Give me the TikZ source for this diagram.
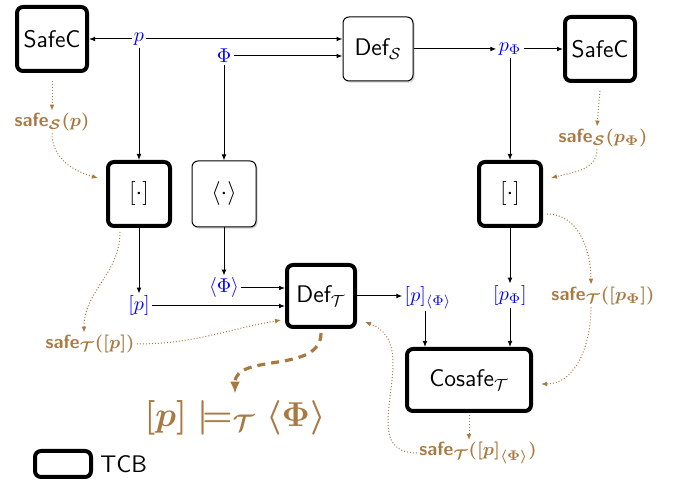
\documentclass[tikz,border=0pt]{standalone}
\usepackage{amsmath,amssymb}
\usetikzlibrary{arrows.meta,shadows}
\definecolor{safebrown}{RGB}{168,122,66}
\newcommand{\safeop}{\textsf{\textbf{safe}}}
\tikzset{
  box/.style = {draw=black, fill=white, rounded corners=3pt, align=center, inner sep=0pt,
    font=\fontsize{12}{14}\selectfont\sffamily,
    drop shadow={shadow xshift=0.8pt, shadow yshift=-0.8pt, opacity=0.35}},
  box_t/.style = {box, line width=2pt},% boite de la TCB
  box_u/.style = {box, line width=0.5pt},% boite hors TCB
  val/.style = {blue, inner sep=1pt, font=\fontsize{10}{12}\selectfont},
  safe_l/.style = {safebrown, inner sep=1pt, font=\fontsize{9.5}{12}\selectfont\boldmath},
  flow/.style = {-{Latex[length=3pt,width=2.4pt]}, line width=0.5pt},
  proof/.style = {-{Latex[length=3pt,width=2.4pt]}, safebrown, densely dotted, line width=0.5pt},
  concl/.style = {-{Latex[length=6pt,width=5pt]}, safebrown, dash pattern=on 4pt off 3pt, line width=1.6pt}
}

\begin{document}
\begin{tikzpicture}[x=0.5pt, y=-0.5pt]
  \useasboundingbox (0,0) rectangle (675,485);
  % boites
  \node [box_t, minimum width=35pt, minimum height=32pt] (safec_l) at (52,39) {SafeC};
  \node [box_u, minimum width=35pt, minimum height=32pt] (def_s) at (378,49) {Def$_{\mathcal{S}}$};
  \node [box_t, minimum width=35pt, minimum height=32pt] (safec_r) at (600,49) {SafeC};
  \node [box_t, minimum width=31pt, minimum height=32pt] (brk_l) at (139,194) {$[\cdot]$};
  \node [box_u, minimum width=32pt, minimum height=33pt] (ang) at (224,194) {$\langle\cdot\rangle$};
  \node [box_t, minimum width=31pt, minimum height=32pt] (brk_r) at (510,194) {$[\cdot]$};
  \node [box_t, minimum width=34pt, minimum height=31pt] (def_t) at (321,296) {Def$_{\mathcal{T}}$};
  \node [box_t, minimum width=62pt, minimum height=31pt] (cosafe) at (469,380) {Cosafe$_{\mathcal{T}}$};
  % valeurs
  \node [val] (p) at (139,39) {$p$};
  \node [val] (phi) at (224,56) {$\Phi$};
  \node [val] (p_phi) at (510,49) {$p_\Phi$};
  \node [val] (bp) at (139,306) {$[p]$};
  \node [val] (aphi) at (224,288) {$\langle\Phi\rangle$};
  \node [val] (bp_a) at (428,298) {$[p]_{\langle\Phi\rangle}$};
  \node [val] (bp_phi) at (510,296) {$[p_\Phi]$};
  % preuves
  \node [safe_l] (s_sl) at (52,122) {$\safeop_{\mathcal{S}}(p)$};
  \node [safe_l] (s_sr) at (603,138) {$\safeop_{\mathcal{S}}(p_\Phi)$};
  \node [safe_l] (s_tl) at (90,344) {$\safeop_{\mathcal{T}}([p])$};
  \node [safe_l] (s_tr) at (603,296) {$\safeop_{\mathcal{T}}([p_\Phi])$};
  \node [safe_l] (s_tc) at (478,453) {$\safeop_{\mathcal{T}}([p]_{\langle\Phi\rangle})$};
  \node [safebrown, font=\fontsize{17}{20}\selectfont\boldmath] (goal) at (235,418)
    {$[p] \models_{\mathcal{T}} \langle\Phi\rangle$};
  % legende
  \node [box_t, minimum width=28pt, minimum height=13pt] (tcb) at (63,464) {};
  \node [font=\fontsize{12}{14}\selectfont\sffamily, anchor=west, inner sep=1pt] (tcb_t) at (98,464) {TCB};

  % flot des programmes
  \draw [flow] (p) -- (safec_l);
  \draw [flow] (p.east) -- (p.east -| def_s.west);
  \draw [flow] (phi.east) -- (phi.east -| def_s.west);
  \draw [flow] (def_s) -- (p_phi);
  \draw [flow] (p_phi) -- (safec_r);
  \draw [flow] (p) -- (brk_l);
  \draw [flow] (phi) -- (ang);
  \draw [flow] (p_phi) -- (brk_r);
  \draw [flow] (brk_l) -- (bp);
  \draw [flow] (ang) -- (aphi);
  \draw [flow] (brk_r) -- (bp_phi);
  \draw [flow] (aphi.east) -- (aphi.east -| def_t.west);
  \draw [flow] (bp.east) -- (bp.east -| def_t.west);
  \draw [flow] (def_t.east) -- (def_t.east -| bp_a.west);
  \draw [flow] ([xshift=-1.5pt]bp_a.south) -- ([xshift=-1.5pt]bp_a.south |- cosafe.north);
  \draw [flow] (bp_phi.south) -- (bp_phi.south |- cosafe.north);

  % flot des preuves
  \draw [proof] (safec_l.south) ++(0,-4pt) coordinate (sl_o) (sl_o) -- (s_sl.north);
  \draw [proof] (s_sl.south) to [out=-90, in=165] ([xshift=-4pt, yshift=8pt]brk_l.west);
  \draw [proof] ([yshift=-4pt]safec_r.south) -- ([xshift=-3pt]s_sr.north);
  \draw [proof] ([xshift=-3pt]s_sr.south) to [out=-90, in=15] ([xshift=4pt, yshift=8pt]brk_r.east);
  \draw [proof] ([xshift=2pt, yshift=-10pt]brk_r.east) to [out=0, in=90] ([xshift=-6pt]s_tr.north);
  \draw [proof] ([xshift=-6pt]s_tr.south) to [out=-90, in=0] ([xshift=4pt, yshift=-2pt]cosafe.east);
  \draw [proof] ([yshift=-1pt]cosafe.south) -- (cosafe.south |- s_tc.north);
  \draw [proof] (s_tc.west) to [out=180, in=-20, looseness=1.2] ([xshift=4pt, yshift=-13pt]def_t.east);
  \draw [proof] ([xshift=-9.5pt, yshift=-2pt]brk_l.south) to [out=-90, in=90] ([xshift=-3pt]s_tl.north);
  \draw [proof] (s_tl.east) to [out=0, in=190] ([xshift=-2pt, yshift=-12pt]def_t.west);
  \draw [concl] ([yshift=-2pt]def_t.south) to [out=-90, in=90] (goal.north);
\end{tikzpicture}
\end{document}
